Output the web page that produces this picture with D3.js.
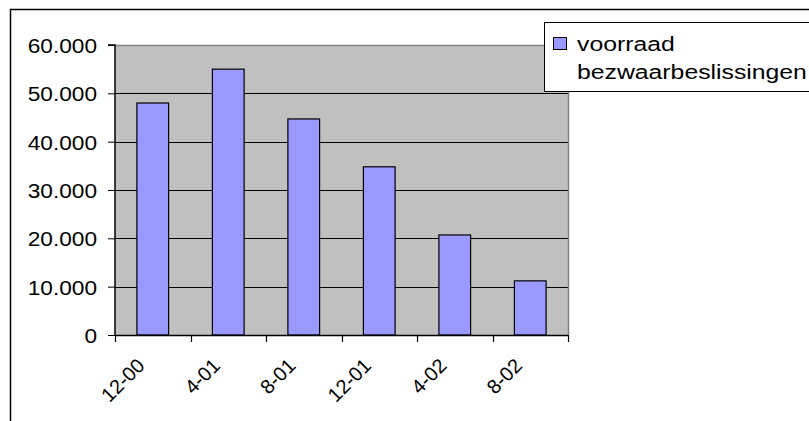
<!DOCTYPE html>
<html><head><meta charset="utf-8">
<script src="https://cdn.jsdelivr.net/npm/d3@7/dist/d3.min.js"></script>
<style>
html,body{margin:0;padding:0;background:#fff;}
svg{display:block;}
text{font-family:"Liberation Sans",Arial,sans-serif;fill:#000;}
</style></head>
<body>
<svg id="chart" width="809" height="421"></svg>
<script>
const categories = ["12-00", "4-01", "8-01", "12-01", "4-02", "8-02"];
const values = [48000, 55000, 44700, 34800, 20700, 11200];
const yTicks = [0, 10000, 20000, 30000, 40000, 50000, 60000];
const seriesName = ["voorraad", "bezwaarbeslissingen"];

const svg = d3.select("#chart");
const plot = {left: 115, right: 568, top: 45, bottom: 335};

const nl = d3.formatLocale({decimal: ",", thousands: ".", grouping: [3], currency: ["€", ""]});
const fmt = nl.format(",");

const x = d3.scaleBand().domain(categories).range([plot.left, plot.right])
  .paddingInner(0.58).paddingOuter(0.29);
const y = d3.scaleLinear().domain([0, 60000]).range([plot.bottom, plot.top]);

// outer chart border
svg.append("rect").attr("x", 10.5).attr("y", 9.5).attr("width", 820).attr("height", 440)
  .attr("fill", "#fff").attr("stroke", "#000").attr("stroke-width", 1.5);

// plot area
svg.append("rect").attr("x", plot.left).attr("y", plot.top)
  .attr("width", plot.right - plot.left).attr("height", plot.bottom - plot.top)
  .attr("fill", "#c0c0c0");

// gridlines
svg.append("g").selectAll("line").data(yTicks.filter(d => d > 0 && d < 60000)).join("line")
  .attr("x1", plot.left).attr("x2", plot.right)
  .attr("y1", d => Math.round(y(d)) + 0.5).attr("y2", d => Math.round(y(d)) + 0.5)
  .attr("stroke", "#000").attr("stroke-width", 1);

// plot border top/right (gray)
svg.append("path")
  .attr("d", `M${plot.left},${plot.top + 0.5}H${plot.right + 0.5}V${plot.bottom}`)
  .attr("fill", "none").attr("stroke", "#808080").attr("stroke-width", 1.5);

// bars
svg.append("g").selectAll("rect").data(values).join("rect")
  .attr("x", (d, i) => x(categories[i]))
  .attr("y", d => y(d))
  .attr("width", x.bandwidth())
  .attr("height", d => y(0) - y(d))
  .attr("fill", "#9999ff").attr("stroke", "#000").attr("stroke-width", 1.2);

// y axis
const yAxis = d3.axisLeft(y).tickValues(yTicks).tickSize(7).tickPadding(11).tickFormat(d => fmt(d));
const gy = svg.append("g").attr("transform", `translate(${plot.left},0)`).call(yAxis);
gy.select(".domain").attr("stroke", "#000").attr("stroke-width", 1.5).attr("d", `M-7,${plot.top}H0V${plot.bottom}`);
gy.selectAll(".tick line").attr("stroke", "#000");
gy.selectAll(".tick text")
  .attr("font-size", 21)
  .attr("dy", "0.36em")
  .attr("font-family", "Liberation Sans, Arial, sans-serif")
  .each(function() {
    const t = d3.select(this);
    const xx = +t.attr("x");
    t.attr("x", null).attr("transform", `translate(${xx},0) scale(1.08,1)`);
  });

// x axis line and ticks at band boundaries
const boundaries = categories.map(c => x(c) - x.step() * x.paddingInner() / 2).concat([plot.right]);
const gx = svg.append("g");
gx.append("line").attr("x1", plot.left).attr("x2", plot.right)
  .attr("y1", plot.bottom + 0.5).attr("y2", plot.bottom + 0.5).attr("stroke", "#000").attr("stroke-width", 1.5);
gx.selectAll("line.tk").data(boundaries).join("line").attr("class", "tk")
  .attr("x1", d => Math.round(d) + 0.5).attr("x2", d => Math.round(d) + 0.5)
  .attr("y1", plot.bottom).attr("y2", plot.bottom + 7)
  .attr("stroke", "#000").attr("stroke-width", 1.2);
gx.selectAll("text").data(categories).join("text")
  .attr("transform", d => `translate(${x(d) + x.bandwidth() / 2 - 7},${plot.bottom + 32}) rotate(-45)`)
  .attr("text-anchor", "end")
  .attr("font-size", 20)
  .text(d => d);

// legend
const lg = svg.append("g");
lg.append("rect").attr("x", 544.5).attr("y", 22.5).attr("width", 300).attr("height", 69)
  .attr("fill", "#fff").attr("stroke", "#000").attr("stroke-width", 1);
lg.append("rect").attr("x", 553.5).attr("y", 37.5).attr("width", 13).attr("height", 12)
  .attr("fill", "#9999ff").attr("stroke", "#000").attr("stroke-width", 1);
lg.selectAll("text").data(seriesName).join("text")
  .attr("transform", (d, i) => `translate(577,${51 + i * 28}) scale(1.18,1)`)
  .attr("font-size", 21)
  .text(d => d);
</script>
</body></html>
